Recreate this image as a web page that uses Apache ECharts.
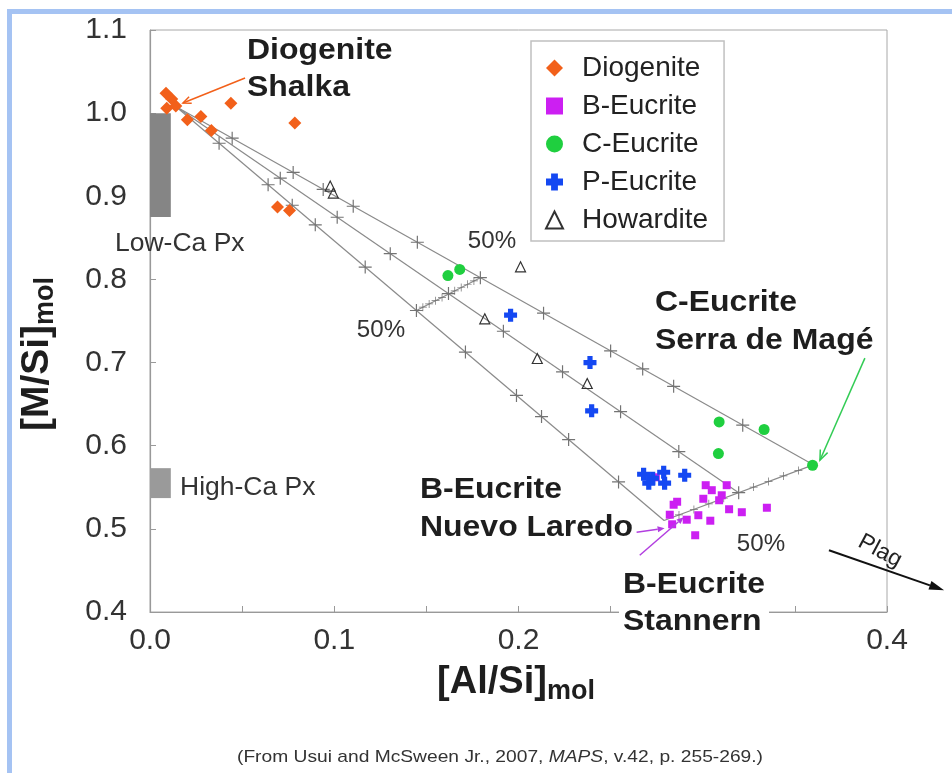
<!DOCTYPE html>
<html><head><meta charset="utf-8">
<script src="https://cdn.jsdelivr.net/npm/echarts@6/dist/echarts.min.js"></script>
<style>html,body{margin:0;padding:0;background:#fff}#c{width:952px;height:773px}</style>
</head><body><div id="c"></div><script>
// ---------- data (x = [Al/Si]mol, y = [M/Si]mol) ----------
const xTicks = [0.0, 0.1, 0.2, 0.3, 0.4];
const yTicks = [0.4, 0.5, 0.6, 0.7, 0.8, 0.9, 1.0, 1.1];
const seriesNames = ['Diogenite', 'B-Eucrite', 'C-Eucrite', 'P-Eucrite', 'Howardite'];

const diogenite = [[0.0087,1.024],[0.0118,1.017],[0.0091,1.006],[0.0140,1.0085],[0.0203,0.992],[0.0276,0.996],[0.0439,1.012],[0.0333,0.979],[0.0786,0.988],[0.0692,0.887],[0.0757,0.883]];
const bEucrite = [[0.2745,0.562],[0.3016,0.5525],[0.3130,0.5525],[0.3049,0.5465],[0.3103,0.5404],[0.3003,0.5362],[0.3089,0.5344],[0.2861,0.5326],[0.2842,0.529],[0.3143,0.5236],[0.3212,0.520],[0.3348,0.5254],[0.2821,0.517],[0.2976,0.5164],[0.2913,0.511],[0.3041,0.5098],[0.2834,0.5055],[0.2959,0.4923]];
const cEucrite = [[0.1617,0.8046],[0.1681,0.812],[0.3089,0.6286],[0.3333,0.6195],[0.3085,0.5906],[0.3596,0.5765]];
const pEucrite = [[0.1957,0.757],[0.2388,0.700],[0.2397,0.642],[0.2679,0.5657],[0.2707,0.5549],[0.2728,0.5609],[0.2788,0.5681],[0.2793,0.5549],[0.2902,0.5645]];
const howardite = [[0.0978,0.9123],[0.0995,0.9039],[0.2011,0.8152],[0.1817,0.7526],[0.2102,0.7049],[0.2373,0.6748]];

// mixing lines (end members)
const lineShalkaSerra = [[0.014,1.008],[0.360,0.577]];
const lineShalkaMid = [[0.014,1.008],[0.3195,0.5435]];
const lineShalkaNuevo = [[0.014,1.008],[0.279,0.510]];
const lineUpper50 = [[0.1446,0.7626],[0.1793,0.8021]];
const lineNuevoSerra = [[0.279,0.510],[0.360,0.577]];

// tick marks
const ticksSerra = [[0.0446,0.9699],[0.0777,0.9287],[0.0940,0.9083],[0.1103,0.8880],[0.1451,0.8447],[0.1793,0.8021],[0.2136,0.7594],[0.2500,0.7140],[0.2674,0.6924],[0.2842,0.6714],[0.3217,0.6247]];
const ticksMid = [[0.0707,0.9218],[0.1016,0.8748],[0.1304,0.8310],[0.1620,0.7830],[0.1918,0.7377],[0.2239,0.6889],[0.2554,0.6410],[0.2870,0.5929],[0.3195,0.5435]];
const ticksNuevo = [[0.0375,0.9638],[0.0641,0.9139],[0.0772,0.8892],[0.0897,0.8657],[0.1168,0.8148],[0.1446,0.7626],[0.1712,0.7126],[0.1989,0.6605],[0.2125,0.6350],[0.2272,0.6074],[0.2543,0.5564]];
const ticksUpper50 = [[0.1481,0.7666],[0.1515,0.7705],[0.1550,0.7745],[0.1585,0.7784],[0.1654,0.7863],[0.1689,0.7903],[0.1724,0.7942],[0.1758,0.7982]];
const ticksNuevoSerra = [[0.2871,0.5167],[0.2952,0.5234],[0.3033,0.5301],[0.3114,0.5368],[0.3276,0.5502],[0.3357,0.5569],[0.3438,0.5636],[0.3519,0.5703]];

// pyroxene composition ranges
const lowCaBox = [[0,1.0],[0.0113,0.875]];
const highCaBox = [[0,0.573],[0.0113,0.537]];

// annotation arrows [tail, tip]
const arrowShalka = [[0.0516,1.0422],[0.0179,1.0122]];
const arrowSerra = [[0.388,0.7053],[0.3636,0.5826]];
const arrowNuevo = [[0.2641,0.4959],[0.2793,0.5007]];
const arrowStannern = [[0.2658,0.4682],[0.2897,0.5140]];
const arrowPlag = [[0.3685,0.4743],[0.431,0.4261]];

// ---------- chart ----------
const FONT = '"Liberation Sans", Arial, Helvetica, sans-serif';
const crossPath = 'path://M5,0h1v5h5v1h-5v5h-1v-5h-5v-1h5z';
const plusPath = 'path://M3,0h4v3h3v4h-3v3h-4v-3h-3v-4h3z';
const chart = echarts.init(document.getElementById('c'));

function mixLine(data, extra) {
  return Object.assign({type:'line', data, symbol:'none', silent:true, z:2,
    lineStyle:{color:'#8a8a8a', width:1.2}}, extra || {});
}
function tickSer(data, size) {
  return {type:'scatter', data, symbol:crossPath, symbolSize:size, silent:true, z:3,
    itemStyle:{color:'#737373', opacity:1}};
}

const option = {
  animation:false,
  backgroundColor:'#fff',
  grid:{left:150, right:65, top:30, bottom:161, show:true, borderColor:'#a8a8a8', borderWidth:1},
  xAxis:{type:'value', min:0, max:0.4, interval:0.05,
    axisLine:{lineStyle:{color:'#999', width:1.2}},
    axisTick:{inside:true, length:6, lineStyle:{color:'#999'}},
    splitLine:{show:false},
    axisLabel:{margin:14, fontSize:30, color:'#333', fontFamily:FONT,
      formatter:v => { const r = Math.round(v*100)/100; return xTicks.some(t => Math.abs(t-r)<1e-6) ? r.toFixed(1) : ''; }}},
  yAxis:{type:'value', min:0.4, max:1.1, interval:0.1,
    axisLine:{lineStyle:{color:'#999', width:1.2}},
    axisTick:{inside:true, length:6, lineStyle:{color:'#999'}},
    splitLine:{show:false},
    axisLabel:{margin:23, fontSize:30, color:'#333', fontFamily:FONT,
      formatter:v => { const r = Math.round(v*10)/10; return yTicks.some(t => Math.abs(t-r)<1e-6) ? r.toFixed(1) : ''; }}},
  legend:{orient:'vertical', left:531, top:41, data:seriesNames,
    itemWidth:17, itemHeight:17, itemGap:10, padding:[13,16,7,14],
    borderColor:'#c0c0c0', borderWidth:1.5, backgroundColor:'#fff',
    textStyle:{fontSize:28, color:'#222', fontFamily:FONT, lineHeight:27, padding:[0,0,0,14]}},
  series:[
    mixLine(lineShalkaSerra, {markArea:{silent:true, data:[
      [{coord:lowCaBox[0], itemStyle:{color:'#858585', opacity:1}}, {coord:lowCaBox[1]}],
      [{coord:highCaBox[0], itemStyle:{color:'#9a9a9a', opacity:1}}, {coord:highCaBox[1]}]
    ]}}),
    mixLine(lineShalkaMid),
    mixLine(lineShalkaNuevo),
    mixLine(lineUpper50),
    mixLine(lineNuevoSerra),
    tickSer(ticksSerra.concat(ticksMid, ticksNuevo), 13),
    tickSer(ticksUpper50.concat(ticksNuevoSerra), 8),
    {type:'scatter', name:'Diogenite', data:diogenite, symbol:'diamond', symbolSize:13, z:5, itemStyle:{color:'#f2601a', opacity:1}},
    {type:'scatter', name:'B-Eucrite', data:bEucrite, symbol:'rect', symbolSize:8, z:5, itemStyle:{color:'#cc1ff2', opacity:1}},
    {type:'scatter', name:'C-Eucrite', data:cEucrite, symbol:'circle', symbolSize:11, z:5, itemStyle:{color:'#1fcf3f', opacity:1}},
    {type:'scatter', name:'P-Eucrite', data:pEucrite, symbol:plusPath, symbolSize:13, z:5, itemStyle:{color:'#1448f2', opacity:1}},
    {type:'scatter', name:'Howardite', data:howardite, symbol:'triangle', symbolSize:10, z:5,
      itemStyle:{color:'rgba(0,0,0,0)', borderColor:'#333', borderWidth:1.2, opacity:1}}
  ]
};
chart.setOption(option);

// ---------- annotations ----------
const px = p => chart.convertToPixel({gridIndex:0}, p);
function arrow(pair, color, w, hl, hw, open) {
  const p1 = px(pair[0]), p2 = px(pair[1]);
  const ang = Math.atan2(p2[1]-p1[1], p2[0]-p1[0]);
  const bx = p2[0]-hl*Math.cos(ang), by = p2[1]-hl*Math.sin(ang);
  const nx = -Math.sin(ang)*hw/2, ny = Math.cos(ang)*hw/2;
  const els = [{type:'line', silent:true, z:10, shape:{x1:p1[0], y1:p1[1], x2:open?p2[0]:bx, y2:open?p2[1]:by}, style:{stroke:color, lineWidth:w}}];
  if (open) els.push({type:'polyline', silent:true, z:10, shape:{points:[[bx+nx,by+ny],[p2[0],p2[1]],[bx-nx,by-ny]]}, style:{stroke:color, lineWidth:w, fill:null}});
  else els.push({type:'polygon', silent:true, z:10, shape:{points:[[p2[0],p2[1]],[bx+nx,by+ny],[bx-nx,by-ny]]}, style:{fill:color}});
  return els;
}
function label(text, x, y, size, bold, sx, extra) {
  return {type:'text', x, y, scaleX:sx || 1, silent:true, z:10,
    style:Object.assign({text, fontSize:size, fontWeight:bold?'bold':'normal', fontFamily:FONT, fill:bold?'#1e1e1e':'#333', align:'left', verticalAlign:'middle'}, extra||{})};
}
const graphics = [
  {type:'rect', silent:true, shape:{x:7, y:9, width:945, height:5}, style:{fill:'#a5c3f3'}},
  {type:'rect', silent:true, shape:{x:7, y:9, width:5, height:764}, style:{fill:'#a5c3f3'}},
  {type:'rect', silent:true, z:9, shape:{x:619, y:604, width:150, height:58}, style:{fill:'#fff'}},
  label('Diogenite', 247, 51, 30, true, 1.065),
  label('Shalka', 247, 88, 30, true, 1.065),
  label('C-Eucrite', 655, 303, 30, true, 1.065),
  label('Serra de Magé', 655, 341, 30, true, 1.065),
  label('B-Eucrite', 420, 490, 30, true, 1.065),
  label('Nuevo Laredo', 420, 528, 30, true, 1.065),
  label('B-Eucrite', 623, 585, 30, true, 1.065),
  label('Stannern', 623, 622, 30, true, 1.065),
  label('50%', 492, 242, 23, false, 1.05, {align:'center'}),
  label('50%', 381, 331, 23, false, 1.05, {align:'center'}),
  label('50%', 761, 545, 23, false, 1.05, {align:'center'}),
  label('Low-Ca Px', 115, 244, 25, false, 1.06),
  label('High-Ca Px', 180, 488, 25, false, 1.06),
  {type:'text', x:880, y:551, rotation:-28*Math.PI/180, silent:true, z:10,
    style:{text:'Plag', fontSize:23, fontFamily:FONT, fill:'#222', align:'center', verticalAlign:'middle'}},
  {type:'text', x:37, y:354, rotation:Math.PI/2, silent:true, z:10,
    style:{text:'{a|[M/Si]}{b|mol}', align:'center', verticalAlign:'middle', fill:'#1e1e1e',
      rich:{a:{fontSize:39, fontWeight:'bold', fontFamily:FONT, lineHeight:44, fill:'#1e1e1e'},
            b:{fontSize:27, fontWeight:'bold', fontFamily:FONT, lineHeight:22, verticalAlign:'bottom', fill:'#1e1e1e'}}}},
  {type:'text', x:516, y:683, silent:true, z:10,
    style:{text:'{a|[Al/Si]}{b|mol}', align:'center', verticalAlign:'middle', fill:'#1e1e1e',
      rich:{a:{fontSize:38, fontWeight:'bold', fontFamily:FONT, lineHeight:44, fill:'#1e1e1e'},
            b:{fontSize:27, fontWeight:'bold', fontFamily:FONT, lineHeight:22, verticalAlign:'bottom', fill:'#1e1e1e'}}}},
  {type:'text', x:500, y:757, scaleX:1.13, silent:true, z:10,
    style:{text:'{n|(From Usui and McSween Jr., 2007, }{i|MAPS}{n|, v.42, p. 255-269.)}', align:'center', verticalAlign:'middle',
      rich:{n:{fontSize:17, fontFamily:FONT, fill:'#333'}, i:{fontSize:17, fontFamily:FONT, fontStyle:'italic', fill:'#333'}}}}
].concat(
  arrow(arrowShalka, '#f2601a', 1.5, 8, 7, true),
  arrow(arrowSerra, '#33cc55', 1.5, 10, 8, true),
  arrow(arrowNuevo, '#b23ee0', 1.5, 7, 6, false),
  arrow(arrowStannern, '#b23ee0', 1.5, 7, 6, false),
  arrow(arrowPlag, '#111', 2, 15, 9, false)
);
chart.setOption({graphic:graphics});
</script></body></html>
